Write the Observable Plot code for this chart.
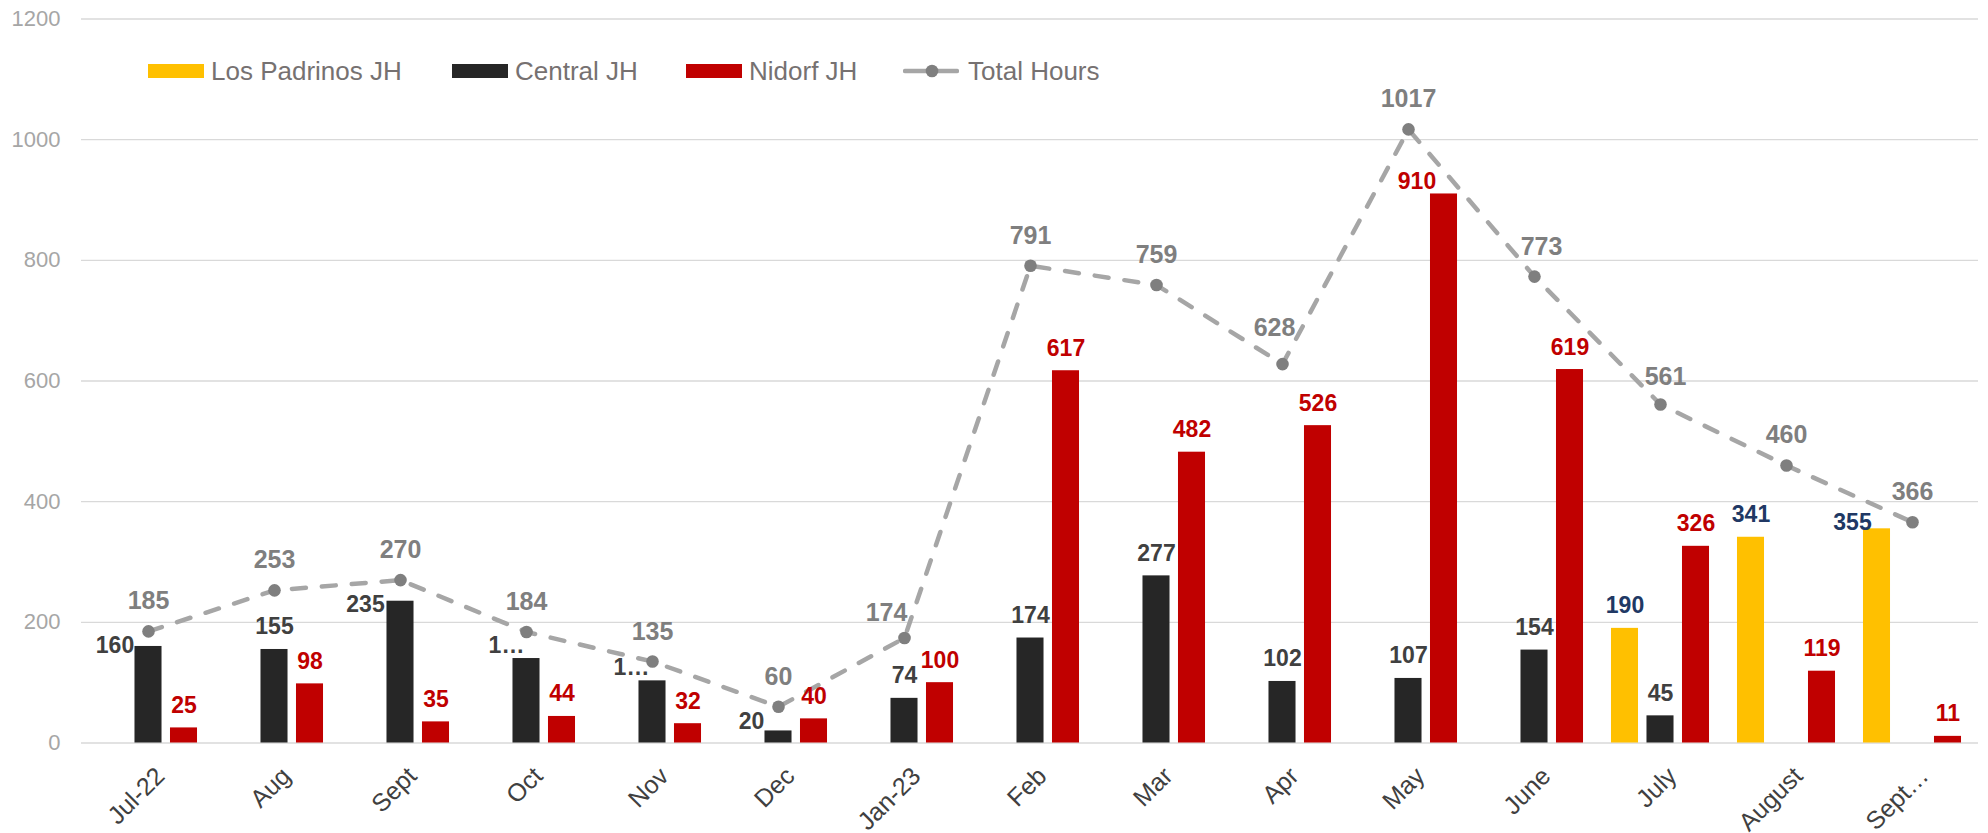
<!DOCTYPE html>
<html>
<head>
<meta charset="utf-8">
<script src="https://cdn.jsdelivr.net/npm/d3@7"></script>
<script src="https://cdn.jsdelivr.net/npm/@observablehq/plot@0.6"></script>
<style>
  body { margin: 0; background: #fff; }
  #wrap { position: relative; width: 1988px; height: 833px; font-family: "Liberation Sans", Arial, sans-serif; }
  .item { position: absolute; top: 56px; height: 30px; display: flex; align-items: center; font-size: 26px; color: #767171; white-space: nowrap; }
  .sw { width: 56px; height: 14px; margin-right: 7px; }
</style>
</head>
<body>
<div id="wrap"></div>
<script>
// ---------- data ----------
const months = ["Jul-22", "Aug", "Sept", "Oct", "Nov", "Dec", "Jan-23", "Feb", "Mar", "Apr", "May", "June", "July", "August", "Sept…"];
const losPadrinos = [null, null, null, null, null, null, null, null, null, null, null, null, 190, 341, 355];
const central     = [160, 155, 235, 140, 103, 20, 74, 174, 277, 102, 107, 154, 45, null, null];
const nidorf      = [25, 98, 35, 44, 32, 40, 100, 617, 482, 526, 910, 619, 326, 119, 11];
const totalHours  = [185, 253, 270, 184, 135, 60, 174, 791, 759, 628, 1017, 773, 561, 460, 366];
const seriesNames = ["Los Padrinos JH", "Central JH", "Nidorf JH"];
const totalName = "Total Hours";
const yTicks = [0, 200, 400, 600, 800, 1000, 1200];
// labels shown truncated in the original
const truncatedText = {"Central JH|Oct": "1…", "Central JH|Nov": "1…"};

// ---------- styling / layout ----------
const W = 1988, H = 833, mL = 81, mR = 10, mT = 18.5, mB = 90.5;
const bw = (W - mL - mR) / months.length;
const barW = 27.5, barStep = 35.5;
const style = {
  "Los Padrinos JH": {fill: "#FFC000", label: "#203864", off: -barStep},
  "Central JH":      {fill: "#262626", label: "#404040", off: 0},
  "Nidorf JH":       {fill: "#C00000", label: "#C00000", off: barStep}
};
// manual label nudges [dx, dy] relative to the standard label position
const labelNudge = {
  "Central JH|Jul-22": [-33.5, 22],
  "Central JH|Sept": [-35, 26],
  "Central JH|Oct": [-20, 9],
  "Central JH|Nov": [-21, 9],
  "Central JH|Dec": [-27, 13.5],
  "Nidorf JH|May": [-27, 10.5],
  "Los Padrinos JH|Sept…": [-24.5, 16.5],
  "Total Hours|Jan-23": [-18, 5],
  "Total Hours|Apr": [-8, -6],
  "Total Hours|June": [7, 0],
  "Total Hours|July": [5, 2]
};

// ---------- tables ----------
const seriesValues = {"Los Padrinos JH": losPadrinos, "Central JH": central, "Nidorf JH": nidorf};
const rows = [];
for (const s of seriesNames) {
  months.forEach((m, i) => {
    const v = seriesValues[s][i];
    if (v != null) rows.push({series: s, month: m, value: v, key: s + "|" + m});
  });
}
const totals = months.map((m, i) => ({series: totalName, month: m, value: totalHours[i], key: totalName + "|" + m}));
const labelText = d => truncatedText[d.key] ?? String(d.value);

const marks = [];
marks.push(Plot.gridY(yTicks, {stroke: "#D9D9D9", strokeOpacity: 1, strokeWidth: 1.4}));
marks.push(Plot.axisY(yTicks, {tickSize: 0, tickPadding: 21, fontSize: 22, fill: "#A6A6A6", tickFormat: d3.format("d"), label: null}));

// bars
for (const s of seriesNames) {
  const il = bw / 2 + style[s].off - barW / 2;
  marks.push(Plot.barY(rows.filter(r => r.series === s), {
    x: "month", y: "value", fill: style[s].fill,
    insetLeft: il, insetRight: bw - il - barW
  }));
}

// total line + dots
marks.push(Plot.line(totals, {x: "month", y: "value", stroke: "#A6A6A6", strokeWidth: 4.5, strokeDasharray: "14,16", strokeLinecap: "round"}));
marks.push(Plot.dot(totals, {x: "month", y: "value", r: 6.3, fill: "#7F7F7F", stroke: "none"}));

// bar labels
for (const s of seriesNames) {
  const data = rows.filter(r => r.series === s);
  const base = {x: "month", y: "value", text: labelText, fill: style[s].label, fontSize: 23, fontWeight: "bold", lineAnchor: "bottom", textAnchor: "middle"};
  marks.push(Plot.text(data.filter(d => !labelNudge[d.key]), {...base, dx: style[s].off, dy: -15}));
  for (const d of data.filter(d => labelNudge[d.key])) {
    const [ndx, ndy] = labelNudge[d.key];
    marks.push(Plot.text([d], {...base, dx: style[s].off + ndx, dy: -15 + ndy}));
  }
}
// total labels
{
  const base = {x: "month", y: "value", text: labelText, fill: "#7F7F7F", fontSize: 25, fontWeight: "bold", lineAnchor: "bottom", textAnchor: "middle"};
  marks.push(Plot.text(totals.filter(d => !labelNudge[d.key]), {...base, dy: -22}));
  for (const d of totals.filter(d => labelNudge[d.key])) {
    const [ndx, ndy] = labelNudge[d.key];
    marks.push(Plot.text([d], {...base, dx: ndx, dy: -22 + ndy}));
  }
}

// x tick labels
marks.push(Plot.text(months, {x: d => d, frameAnchor: "bottom", text: d => d, rotate: -45, textAnchor: "end", lineAnchor: "top", dx: 5, dy: 22, fontSize: 25, fill: "#404040"}));

const chart = Plot.plot({
  width: W, height: H,
  marginLeft: mL, marginRight: mR, marginTop: mT, marginBottom: mB,
  style: {fontFamily: '"Liberation Sans", Arial, sans-serif', background: "#fff", overflow: "visible"},
  x: {type: "band", domain: months, padding: 0, axis: null},
  y: {domain: [0, 1200], axis: null},
  marks
});

const wrap = document.getElementById("wrap");
wrap.appendChild(chart);

// legend (overlaid inside the plot area, as in the original)
const legendItems = [
  {name: "Los Padrinos JH", left: 148, kind: "bar", color: style["Los Padrinos JH"].fill},
  {name: "Central JH", left: 452, kind: "bar", color: style["Central JH"].fill},
  {name: "Nidorf JH", left: 686, kind: "bar", color: style["Nidorf JH"].fill},
  {name: totalName, left: 903, kind: "line"}
];
for (const it of legendItems) {
  const div = document.createElement("div");
  div.className = "item";
  div.style.left = it.left + "px";
  if (it.kind === "bar") {
    const sw = document.createElement("div");
    sw.className = "sw";
    sw.style.background = it.color;
    div.appendChild(sw);
  } else {
    const ns = "http://www.w3.org/2000/svg";
    const svg = document.createElementNS(ns, "svg");
    svg.setAttribute("width", 56); svg.setAttribute("height", 14);
    svg.style.marginRight = "9px";
    const ln = document.createElementNS(ns, "line");
    ln.setAttribute("x1", 2); ln.setAttribute("x2", 54); ln.setAttribute("y1", 7); ln.setAttribute("y2", 7);
    ln.setAttribute("stroke", "#A6A6A6"); ln.setAttribute("stroke-width", 4.5); ln.setAttribute("stroke-linecap", "round");
    const c = document.createElementNS(ns, "circle");
    c.setAttribute("cx", 29); c.setAttribute("cy", 7); c.setAttribute("r", 6.3); c.setAttribute("fill", "#7F7F7F");
    svg.appendChild(ln); svg.appendChild(c);
    div.appendChild(svg);
  }
  const t = document.createElement("span");
  t.textContent = it.name;
  div.appendChild(t);
  wrap.appendChild(div);
}
</script>
</body>
</html>
